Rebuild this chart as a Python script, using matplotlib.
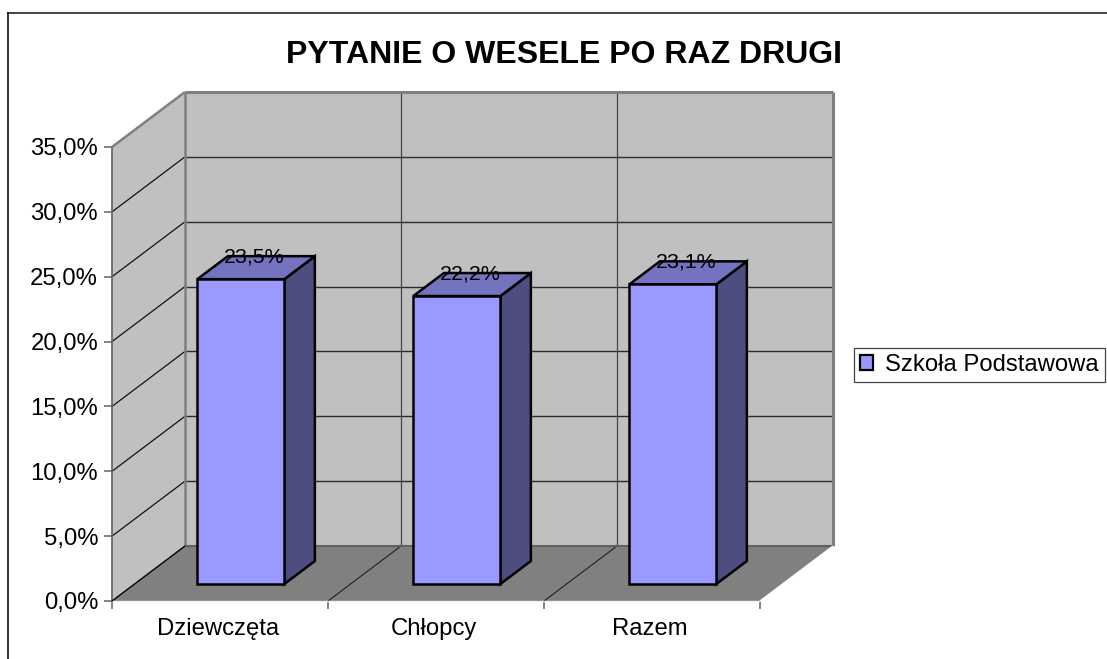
import matplotlib
matplotlib.use("Agg")
import matplotlib.pyplot as plt
from matplotlib.lines import Line2D
from matplotlib.patches import Polygon, Patch

plt.rcParams['font.family'] = ['Liberation Sans', 'DejaVu Sans']

TITLE = "PYTANIE O WESELE PO RAZ DRUGI"
categories = ["Dziewczęta", "Chłopcy", "Razem"]
values = [23.5, 22.2, 23.1]
value_labels = ["23,5%", "22,2%", "23,1%"]
y_ticks = [0, 5, 10, 15, 20, 25, 30, 35]
y_tick_labels = ["0,0%", "5,0%", "10,0%", "15,0%", "20,0%", "25,0%", "30,0%", "35,0%"]
series_name = "Szkoła Podstawowa"

W, H = 1107, 659
fig = plt.figure(figsize=(W / 100, H / 100), dpi=100, facecolor="white")
# outer chart border: only the left and top edges fall inside the picture
fig.add_artist(Line2D([7.5 / W, 7.5 / W], [0, 1 - 12.5 / H], transform=fig.transFigure,
                      color="#3a3a3a", lw=1.5, solid_capstyle="projecting"))
fig.add_artist(Line2D([7.5 / W, 1], [1 - 12.5 / H, 1 - 12.5 / H], transform=fig.transFigure,
                      color="#111111", lw=1.1, solid_capstyle="projecting"))

x0, x1, y0, y35 = 112.0, 760.0, 601.0, 147.0
ax = fig.add_axes([x0 / W, 1 - y0 / H, (x1 - x0) / W, (y0 - y35) / H])
ax.set_xlim(0, 3)
ax.set_ylim(0, 35)
ax.patch.set_visible(False)
for s in ax.spines.values():
    s.set_visible(False)

DX = 73 / 216
DY = 55 / ((y0 - y35) / 35)
GRAY = "#808080"
n = len(categories)
top = y_ticks[-1]


def P(x, v, d=0.0):
    return (x + DX * d, v + DY * d)


def poly(pts, fc, ec="none", lw=0, z=1):
    ax.add_patch(Polygon(pts, closed=True, fc=fc, ec=ec, lw=lw, zorder=z, clip_on=False, joinstyle="miter"))


def line(a, b, c="#222222", lw=0.8, z=2):
    ax.plot([a[0], b[0]], [a[1], b[1]], color=c, lw=lw, zorder=z, clip_on=False, solid_capstyle="butt")


# walls and floor
poly([P(0, 0), P(0, 0, 1), P(0, top, 1), P(0, top)], "#C0C0C0")
poly([P(0, 0, 1), P(n, 0, 1), P(n, top, 1), P(0, top, 1)], "#C0C0C0")
poly([P(0, 0), P(n, 0), P(n, 0, 1), P(0, 0, 1)], GRAY, z=1.5)

# gridlines
for t in y_ticks[1:-1]:
    line(P(0, t), P(0, t, 1), c="#111111", lw=0.9)
    line(P(0, t, 1), P(n, t, 1), c="#2a2a2a", lw=1.0)
for i in range(1, n):
    line(P(i, 0, 1), P(i, top, 1), c="#444444", lw=0.9)
    line(P(i, 0), P(i, 0, 1), c="#222222", lw=0.8)

# wall edges
line(P(0, top), P(0, top, 1), c=GRAY, lw=1.8, z=2.2)
line(P(0, top, 1), P(n, top, 1), c=GRAY, lw=2.2, z=2.2)
line(P(0, 0, 1), P(0, top, 1), c=GRAY, lw=1.8, z=2.2)
line(P(n, 0, 1), P(n, top, 1), c=GRAY, lw=2.2, z=2.2)
line(P(0, 0), P(0, top), c="#606060", lw=1.2, z=2.2)
line(P(0, 0, 1), P(n, 0, 1), c="#606060", lw=1.5, z=2.2)
line(P(0, 0), P(n, 0), c="#F0F0F0", lw=1.0, z=2.2)
line(P(n, 0), P(n, 0, 1), c="white", lw=1.0, z=2.2)
line(P(0, 0), P(0, 0, 1), c="black", lw=1.0, z=2.2)

# bars
BW = 87 / 216
D_NEAR, D_FAR = 17 / 55, 40 / 55
FRONT, TOP, SIDE = "#9999FF", "#7373BF", "#4D4D80"
EDGE = 1.8
for i, v in enumerate(values):
    l = i + 0.5 - BW / 2 - 0.008
    r = l + BW
    poly([P(r, 0, D_NEAR), P(r, 0, D_FAR), P(r, v, D_FAR), P(r, v, D_NEAR)], SIDE, "black", EDGE, z=3)
    poly([P(l, v, D_NEAR), P(r, v, D_NEAR), P(r, v, D_FAR), P(l, v, D_FAR)], TOP, "black", EDGE, z=3)
    poly([P(l, 0, D_NEAR), P(r, 0, D_NEAR), P(r, v, D_NEAR), P(l, v, D_NEAR)], FRONT, "black", EDGE, z=3.1)
    cx, cy = P((l + r) / 2, v, D_NEAR)
    ax.annotate(value_labels[i], (cx, cy), xytext=(13.5 * 0.72, 22.5 * 0.72), textcoords="offset points",
                ha="center", va="center", fontsize=15.4, color="black", zorder=5, annotation_clip=False)

# axes ticks
ax.set_yticks(y_ticks, y_tick_labels)
ax.set_xticks(range(n + 1), [""] * (n + 1))
ax.set_xticks([i + 0.492 for i in range(n)], categories, minor=True)
ax.tick_params(axis="y", length=6, width=1.1, color="#606060", labelsize=17.2, pad=4)
ax.tick_params(axis="x", which="major", length=6, width=1.1, color="#606060")
ax.tick_params(axis="x", which="minor", length=0, labelsize=17.2, pad=12)

# legend
leg = ax.legend(handles=[Patch(fc=FRONT, ec="black", lw=1.6, label=series_name)],
                loc="upper left", bbox_to_anchor=(853.5 / W, 1 - 347.5 / H), bbox_transform=fig.transFigure,
                fontsize=17.2, fancybox=False, framealpha=1, edgecolor="#444444",
                borderpad=0.266, borderaxespad=0, handlelength=0.565, handleheight=0.565, handletextpad=0.49)
leg.get_frame().set_linewidth(0.9)

fig.text(564 / W, 1 - 55 / H, TITLE, ha="center", va="center", fontsize=23, fontweight="bold", color="black")

fig.savefig("out.png", dpi=100)
